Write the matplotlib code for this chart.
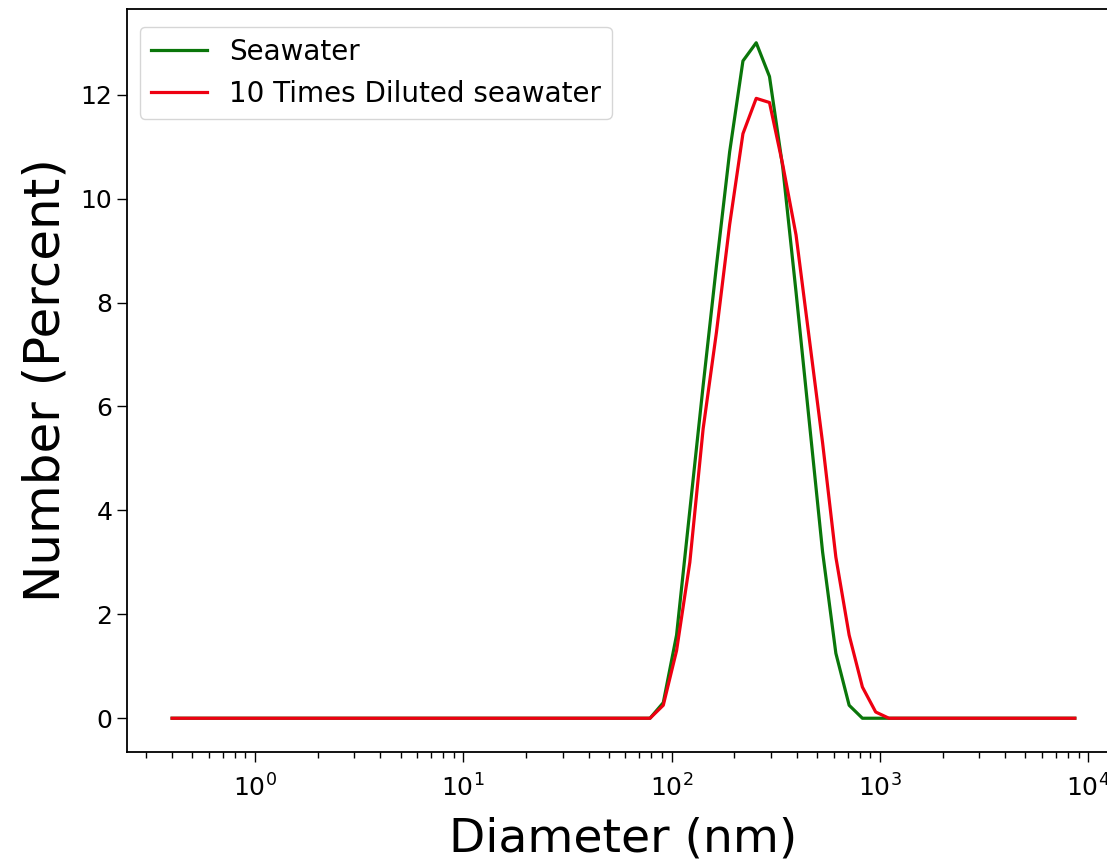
import matplotlib
matplotlib.use("Agg")
import matplotlib.pyplot as plt

# size classes (nm) from the DLS export
diameter = [0.4, 0.4632, 0.5365, 0.6213, 0.7195, 0.8332, 0.9649, 1.117, 1.294, 1.499,
            1.736, 2.01, 2.328, 2.696, 3.122, 3.615, 4.187, 4.849, 5.615, 6.503,
            7.531, 8.721, 10.1, 11.7, 13.54, 15.69, 18.17, 21.04, 24.36, 28.21,
            32.67, 37.84, 43.82, 50.75, 58.77, 68.06, 78.82, 91.28, 105.7, 122.4,
            141.8, 164.2, 190.1, 220.2, 255.0, 295.3, 342.0, 396.1, 458.7, 531.2,
            615.1, 712.4, 825.0, 955.4, 1106, 1281, 1484, 1718, 1990, 2305,
            2669, 3091, 3580, 4145, 4801, 5560, 6439, 7456, 8635]

# number distribution (%)
seawater = [0, 0, 0, 0, 0, 0, 0, 0, 0, 0,
            0, 0, 0, 0, 0, 0, 0, 0, 0, 0,
            0, 0, 0, 0, 0, 0, 0, 0, 0, 0,
            0, 0, 0, 0, 0, 0, 0, 0.3, 1.6, 4.0,
            6.4, 8.7, 10.9, 12.65, 13.0, 12.35, 10.6, 8.2, 5.7, 3.2,
            1.25, 0.25, 0, 0, 0, 0, 0, 0, 0, 0,
            0, 0, 0, 0, 0, 0, 0, 0, 0]

diluted = [0, 0, 0, 0, 0, 0, 0, 0, 0, 0,
           0, 0, 0, 0, 0, 0, 0, 0, 0, 0,
           0, 0, 0, 0, 0, 0, 0, 0, 0, 0,
           0, 0, 0, 0, 0, 0, 0, 0.25, 1.3, 3.0,
           5.57, 7.42, 9.5, 11.25, 11.93, 11.85, 10.65, 9.3, 7.3, 5.3,
           3.1, 1.6, 0.6, 0.12, 0, 0, 0, 0, 0, 0,
           0, 0, 0, 0, 0, 0, 0, 0, 0]

fig = plt.figure(figsize=(11.07, 8.63), dpi=100)
ax = fig.add_axes([0.1147, 0.1286, 0.897, 0.861])

ax.plot(diameter, seawater, color="#0a760a", lw=2.3, label="Seawater")
ax.plot(diameter, diluted, color="#ee0011", lw=2.3, label="10 Times Diluted seawater")
ax.set_xscale("log")

ax.set_xlabel("Diameter (nm)", fontsize=34, labelpad=11)
ax.set_ylabel("Number (Percent)", fontsize=36, labelpad=8)
ax.tick_params(axis="both", which="major", labelsize=18, length=7, width=1)
ax.tick_params(axis="x", which="major", pad=9)
ax.tick_params(axis="x", which="minor", length=4, width=1)
for s in ax.spines.values():
    s.set_linewidth(1.3)

ax.legend(loc="upper left", bbox_to_anchor=(0.013, 0.976), borderaxespad=0,
          fontsize=20, handlelength=2.0)

fig.savefig("out.png", dpi=100)
